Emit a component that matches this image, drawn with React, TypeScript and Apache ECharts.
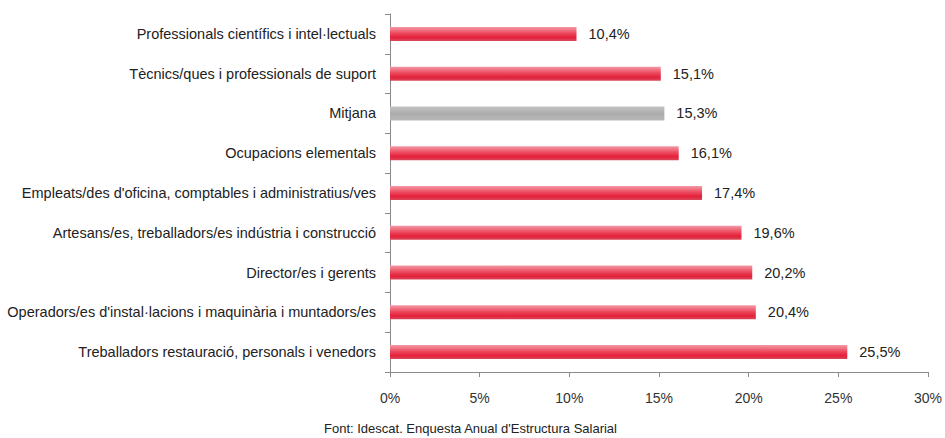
import React, { useEffect, useRef } from "react";
import * as echarts from "echarts";

const categories = [
  "Professionals científics i intel·lectuals",
  "Tècnics/ques i professionals de suport",
  "Mitjana",
  "Ocupacions elementals",
  "Empleats/des d'oficina, comptables i administratius/ves",
  "Artesans/es, treballadors/es indústria i construcció",
  "Director/es i gerents",
  "Operadors/es d'instal·lacions i maquinària i muntadors/es",
  "Treballadors restauració, personals i venedors",
];
const values = [10.4, 15.1, 15.3, 16.1, 17.4, 19.6, 20.2, 20.4, 25.5];
const highlight = "Mitjana";
const sourceText = "Font: Idescat. Enquesta Anual d'Estructura Salarial";

const redGrad = new echarts.graphic.LinearGradient(0, 0, 0, 1, [
  { offset: 0, color: "#f49aa6" },
  { offset: 0.45, color: "#ec4a5e" },
  { offset: 0.75, color: "#e4203a" },
  { offset: 1, color: "#d9485a" },
]);
const grayGrad = new echarts.graphic.LinearGradient(0, 0, 0, 1, [
  { offset: 0, color: "#c4c4c4" },
  { offset: 0.5, color: "#acacac" },
  { offset: 1, color: "#b8b8b8" },
]);

export default function App() {
  const ref = useRef<HTMLDivElement>(null);
  useEffect(() => {
    if (!ref.current) return;
    const chart = echarts.init(ref.current, null, { renderer: "svg" });
    chart.setOption({
      animation: false,
      backgroundColor: "#ffffff",
      textStyle: { fontFamily: "Liberation Sans, Arial, sans-serif" },
      grid: { left: 390, right: 17, top: 14, bottom: 66, containLabel: false },
      xAxis: {
        type: "value",
        min: 0,
        max: 30,
        interval: 5,
        axisLine: { show: true, lineStyle: { color: "#8a8a8a", width: 1 } },
        axisTick: { show: true, length: 5, lineStyle: { color: "#8a8a8a" } },
        splitLine: { show: false },
        axisLabel: {
          formatter: (v: number) => v + "%",
          color: "#333",
          fontSize: 14,
          margin: 19,
        },
      },
      yAxis: {
        type: "category",
        inverse: true,
        data: categories,
        axisLine: { show: true, lineStyle: { color: "#8a8a8a", width: 1 } },
        axisTick: { show: true, length: 5, lineStyle: { color: "#8a8a8a" } },
        axisLabel: { color: "#222", fontSize: 14.5, margin: 14 },
      },
      series: [
        {
          type: "bar",
          barWidth: 14,
          data: values.map((v, i) => ({
            value: v,
            itemStyle: { color: categories[i] === highlight ? grayGrad : redGrad },
          })),
          label: {
            show: true,
            position: "right",
            distance: 12,
            color: "#222",
            fontSize: 14.5,
            formatter: (p: any) => p.value.toFixed(1).replace(".", ",") + "%",
          },
        },
      ],
      graphic: [
        {
          type: "text",
          left: 324,
          top: 422,
          style: { text: sourceText, fontSize: 13, fill: "#222", fontFamily: "Liberation Sans, Arial, sans-serif" },
        },
      ],
    });
    return () => chart.dispose();
  }, []);
  return (
    <div
      ref={ref}
      style={{ position: "fixed", left: 0, top: 0, width: 945, height: 438 }}
    />
  );
}
